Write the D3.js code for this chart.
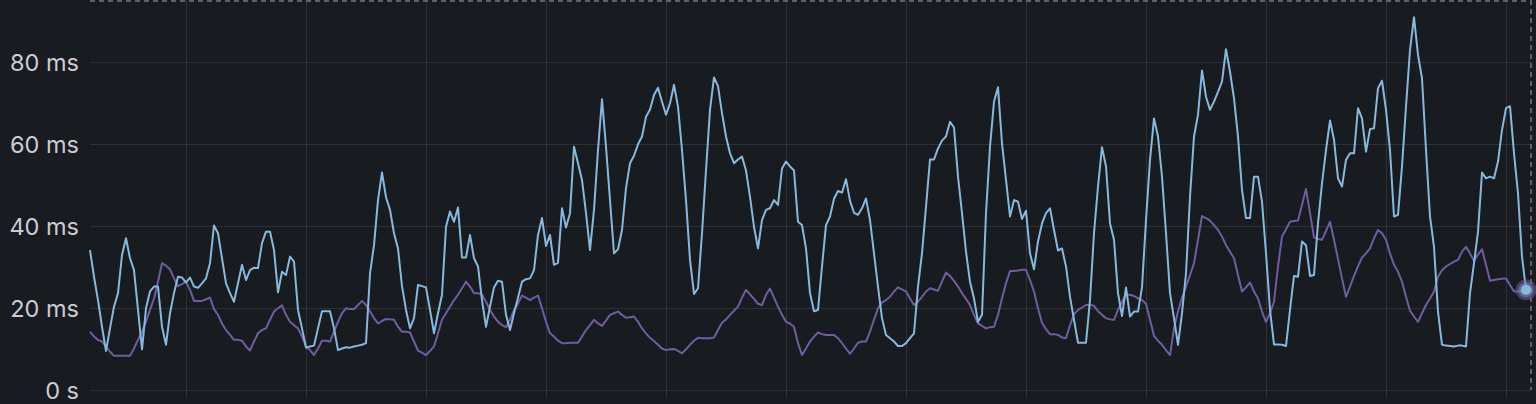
<!DOCTYPE html>
<html>
<head>
<meta charset="utf-8">
<script src="https://cdn.jsdelivr.net/npm/d3@7"></script>
<style>
  html, body { margin: 0; padding: 0; background: #181b1f; }
  svg { display: block; }
</style>
</head>
<body>
<div id="chart"></div>
<script>
// latency series, one sample every 10 s (values in ms)
var blueValues = [
  34.2, 27.7, 22.0, 15.5, 9.6, 15.1, 20.4, 23.7, 33.0, 37.1, 32.2, 29.3, 19.6, 10.0, 20.0, 24.1,
  25.3, 25.3, 15.5, 11.1, 18.8, 23.7, 27.7, 27.5, 26.3, 27.5, 25.3, 25.0, 26.1, 27.3, 31.0, 40.2,
  38.3, 32.2, 26.1, 23.7, 21.6, 26.1, 30.6, 26.9, 29.3, 29.9, 29.8, 35.9, 38.7, 38.7, 34.2, 23.9,
  28.9, 28.1, 32.6, 31.4, 19.6, 15.1, 10.4, 10.7, 10.9, 15.1, 19.3, 19.3, 19.3, 15.1, 9.8, 10.2,
  10.5, 10.4, 10.7, 10.9, 11.1, 11.5, 28.5, 35.4, 46.4, 53.1, 47.1, 44.0, 38.3, 34.6, 25.4, 19.6,
  15.1, 17.6, 25.7, 25.4, 25.1, 19.6, 13.9, 18.8, 23.3, 39.9, 43.6, 41.1, 44.6, 32.4, 32.4, 37.9, 32.2,
  30.2, 22.0, 15.5, 20.4, 25.1, 26.7, 26.5, 18.4, 14.7, 18.8, 22.6, 26.5, 27.1, 27.3, 29.3, 37.9,
  42.0, 35.2, 37.9, 30.6, 31.1, 44.4, 39.7, 43.2, 59.4, 55.4, 51.3, 43.2, 34.2, 44.0, 58.6, 71.0,
  59.4, 46.4, 33.4, 34.4, 39.1, 49.3, 55.4, 57.2, 60.0, 61.9, 66.7, 68.5, 72.0, 73.8, 70.4, 67.2,
  70.0, 74.5, 69.2, 58.6, 46.4, 31.8, 23.5, 24.9, 38.3, 53.7, 68.4, 76.3, 74.2, 67.6, 61.9, 57.8, 55.4,
  56.3, 57.0, 53.6, 47.2, 39.9, 34.6, 41.5, 44.0, 44.4, 46.4, 45.2, 54.1, 55.8, 54.6, 53.6, 41.1,
  40.3, 34.6, 23.7, 19.3, 19.6, 30.2, 40.3, 42.4, 46.7, 48.6, 48.2, 51.5, 46.2, 43.3, 42.8, 44.4,
  46.8, 41.5, 33.4, 25.3, 17.6, 13.5, 12.7, 11.9, 10.8, 10.8, 11.5, 12.7, 13.9, 25.3, 33.4, 44.8,
  56.3, 56.3, 59.0, 60.9, 61.9, 65.5, 64.1, 52.1, 43.2, 33.8, 26.5, 22.4, 16.7, 18.4, 43.2, 59.4, 70.4,
  73.9, 60.2, 51.3, 42.4, 46.4, 46.0, 41.8, 43.8, 33.4, 29.5, 36.3, 40.7, 43.2, 44.4, 39.1, 34.1,
  34.6, 30.2, 22.8, 17.2, 11.6, 11.6, 11.6, 22.0, 38.3, 49.7, 59.3, 54.6, 40.7, 36.7, 23.7, 18.1,
  25.1, 18.0, 19.2, 19.2, 25.1, 41.5, 56.2, 66.3, 61.9, 52.1, 38.3, 23.7, 17.6, 11.1, 18.8, 28.5,
  47.2, 61.9, 67.2, 78.0, 71.6, 68.4, 70.4, 72.8, 75.3, 83.2, 77.7, 71.2, 61.9, 48.9, 42.0, 42.0, 52.1,
  52.1, 46.0, 33.4, 19.6, 11.2, 11.2, 11.1, 10.8, 19.6, 27.9, 27.7, 36.3, 35.4, 27.9, 28.1, 40.7,
  50.5, 58.6, 65.8, 61.1, 51.7, 49.7, 56.2, 57.8, 57.8, 68.8, 66.3, 58.2, 63.7, 63.9, 73.7, 75.5,
  68.4, 58.6, 42.4, 42.8, 54.6, 69.2, 83.0, 91.0, 81.8, 76.1, 58.6, 42.4, 35.0, 19.2, 11.1, 10.9,
  10.8, 10.7, 10.9, 10.9, 10.7, 23.7, 31.0, 38.7, 53.1, 51.7, 52.1, 51.7, 55.8, 63.5, 68.8, 69.3,
  57.8, 48.0, 32.6, 24.5
];

var purpleValues = [
  14.3, 13.1, 12.3, 11.9, 10.7, 9.4, 8.4, 8.4, 8.4, 8.4, 8.4, 10.2, 12.3, 14.3, 16.7, 19.6,
  22.4, 26.5, 31.0, 30.4, 29.5, 27.3, 25.4, 25.9, 26.5, 24.5, 21.8, 21.8, 21.8, 22.2, 22.6, 19.8,
  18.4, 16.3, 14.7, 13.5, 12.3, 12.3, 12.1, 10.7, 9.7, 11.9, 13.9, 14.7, 15.1, 17.2, 19.2, 20.0,
  20.7, 18.4, 16.7, 15.9, 15.1, 13.1, 10.7, 9.8, 8.6, 10.2, 12.1, 12.1, 11.9, 14.3, 16.7, 18.8,
  20.0, 19.8, 19.8, 20.8, 21.8, 20.8, 19.2, 17.6, 16.3, 16.9, 17.4, 17.3, 17.2, 15.5, 14.3, 14.3,
  14.1, 11.9, 9.7, 9.2, 8.6, 9.6, 10.7, 13.9, 17.2, 18.8, 20.4, 22.0, 23.3, 24.9, 26.5, 25.3, 23.7,
  23.7, 23.3, 21.6, 19.6, 18.0, 16.7, 15.9, 15.4, 17.2, 19.6, 21.2, 23.1, 22.6, 22.0, 22.6, 23.1,
  20.0, 16.7, 13.9, 13.1, 12.1, 11.5, 11.5, 11.6, 11.6, 11.6, 13.1, 14.7, 15.9, 17.2, 16.3, 15.7,
  17.0, 18.4, 18.8, 19.2, 18.4, 17.7, 17.8, 18.0, 16.7, 15.1, 13.9, 12.8, 12.0, 11.1, 10.2, 9.8,
  10.0, 10.1, 9.6, 9.0, 10.0, 11.1, 12.1, 12.8, 12.7, 12.7, 12.7, 12.9, 14.7, 16.5, 17.3, 18.4, 19.4,
  20.4, 22.6, 24.5, 23.4, 22.3, 21.1, 20.8, 23.3, 24.8, 22.6, 20.4, 18.4, 16.7, 16.3, 15.5, 11.5,
  8.6, 10.2, 11.9, 13.1, 14.1, 13.7, 13.5, 13.5, 13.5, 12.7, 11.5, 10.2, 8.9, 10.2, 11.6, 11.9,
  11.9, 14.3, 17.2, 20.0, 21.4, 22.0, 22.8, 24.1, 25.1, 24.6, 24.1, 22.4, 20.8, 21.6, 22.8, 24.1,
  24.9, 24.6, 24.3, 26.5, 28.7, 27.9, 26.7, 25.3, 23.7, 22.3, 20.8, 18.4, 16.3, 15.7, 15.1, 15.4, 15.5,
  18.4, 22.4, 26.1, 29.1, 29.1, 29.2, 29.4, 29.4, 26.9, 24.1, 20.0, 16.5, 14.9, 13.7, 13.7, 13.5,
  12.9, 12.7, 15.9, 18.5, 19.6, 20.2, 20.8, 20.8, 20.6, 19.3, 18.4, 17.6, 17.3, 17.2, 19.6, 21.6,
  23.3, 23.3, 23.0, 22.4, 22.0, 21.1, 17.2, 13.3, 12.1, 11.1, 9.8, 8.6, 15.1, 19.2, 22.6, 25.3,
  28.1, 31.0, 36.7, 42.5, 42.0, 41.4, 40.3, 39.1, 37.5, 35.4, 33.8, 32.2, 28.1, 24.1, 25.1, 26.3, 24.1,
  22.4, 19.2, 16.7, 18.8, 21.6, 30.2, 37.5, 39.3, 41.1, 41.3, 41.4, 45.2, 49.1, 43.2, 37.3, 36.9,
  36.7, 38.9, 41.1, 36.7, 32.0, 27.3, 22.8, 25.3, 27.9, 30.2, 32.4, 33.4, 34.6, 37.1, 39.1, 38.3,
  36.7, 33.4, 30.6, 28.9, 26.5, 22.8, 19.4, 18.0, 16.7, 18.8, 20.8, 22.4, 24.1, 27.7, 29.3, 30.2,
  30.8, 31.4, 31.8, 33.8, 35.0, 33.4, 31.5, 33.1, 34.4, 30.6, 26.7, 26.9, 27.1, 27.2, 27.3, 25.7,
  24.1, 24.1, 24.2, 24.5
];

var yTicks = [0, 20, 40, 60, 80];
var yTickLabels = ["0 s", "20 ms", "40 ms", "60 ms", "80 ms"];

var startTime = new Date(2024, 0, 1, 9, 56, 0);
var stepMs = 10 * 1000;

var width = 1536, height = 404;
var margin = { top: 1, right: 5, bottom: 14, left: 90 };
var plotRight = width - margin.right;

var times = blueValues.map(function (d, i) {
  return new Date(startTime.getTime() + i * stepMs);
});

var x = d3.scaleTime()
  .domain([times[0], times[times.length - 1]])
  .range([margin.left, 1526]);

var y = d3.scaleLinear()
  .domain([0, 80])
  .range([390.3, 62.3]);

var svg = d3.select("#chart")
  .append("svg")
  .attr("width", width)
  .attr("height", height);

// grid
var gridColor = "rgba(204,204,220,0.12)";

svg.append("g")
  .selectAll("line")
  .data(x.ticks(d3.timeMinute.every(5)))
  .enter()
  .append("line")
  .attr("x1", function (d) { return Math.round(x(d)) + 0.5; })
  .attr("x2", function (d) { return Math.round(x(d)) + 0.5; })
  .attr("y1", 0)
  .attr("y2", 398)
  .attr("stroke", gridColor)
  .attr("stroke-width", 1);

svg.append("g")
  .selectAll("line")
  .data(yTicks)
  .enter()
  .append("line")
  .attr("x1", margin.left)
  .attr("x2", plotRight)
  .attr("y1", function (d) { return Math.round(y(d)) + 0.5; })
  .attr("y2", function (d) { return Math.round(y(d)) + 0.5; })
  .attr("stroke", gridColor)
  .attr("stroke-width", 1);

// y axis labels
svg.append("g")
  .selectAll("text")
  .data(yTicks)
  .enter()
  .append("text")
  .attr("x", 79)
  .attr("y", function (d) { return y(d); })
  .attr("dy", "0.36em")
  .attr("text-anchor", "end")
  .attr("fill", "#cbcbd6")
  .style("font-family", "Inter, 'Noto Sans', sans-serif")
  .style("font-size", "23.5px")
  .text(function (d, i) { return yTickLabels[i]; });

// dashed border (top + right)
svg.append("line")
  .attr("x1", margin.left)
  .attr("x2", plotRight)
  .attr("y1", 1)
  .attr("y2", 1)
  .attr("stroke", "#5f6166")
  .attr("stroke-width", 2)
  .attr("stroke-dasharray", "5,4");

svg.append("line")
  .attr("x1", plotRight)
  .attr("x2", plotRight)
  .attr("y1", 0)
  .attr("y2", 390)
  .attr("stroke", "#5f6166")
  .attr("stroke-width", 2)
  .attr("stroke-dasharray", "5,4");

// series
var line = d3.line()
  .x(function (d, i) { return x(times[i]); })
  .y(function (d) { return y(d); });

svg.append("path")
  .datum(purpleValues)
  .attr("fill", "none")
  .attr("stroke", "#705DA0")
  .attr("stroke-width", 2)
  .attr("stroke-linejoin", "round")
  .attr("d", line);

svg.append("path")
  .datum(blueValues)
  .attr("fill", "none")
  .attr("stroke", "#88B9DD")
  .attr("stroke-width", 2)
  .attr("stroke-linejoin", "round")
  .attr("d", line);

// hover points on last sample
var last = times.length - 1;
svg.append("circle")
  .attr("cx", x(times[last]))
  .attr("cy", y(purpleValues[last]))
  .attr("r", 10.5)
  .attr("fill", "#705DA0")
  .attr("fill-opacity", 0.55);

svg.append("circle")
  .attr("cx", x(times[last]))
  .attr("cy", y(blueValues[last]))
  .attr("r", 7.5)
  .attr("fill", "#88B9DD")
  .attr("fill-opacity", 0.35);

svg.append("circle")
  .attr("cx", x(times[last]))
  .attr("cy", y(blueValues[last]))
  .attr("r", 5)
  .attr("fill", "#88B9DD");
</script>
</body>
</html>
